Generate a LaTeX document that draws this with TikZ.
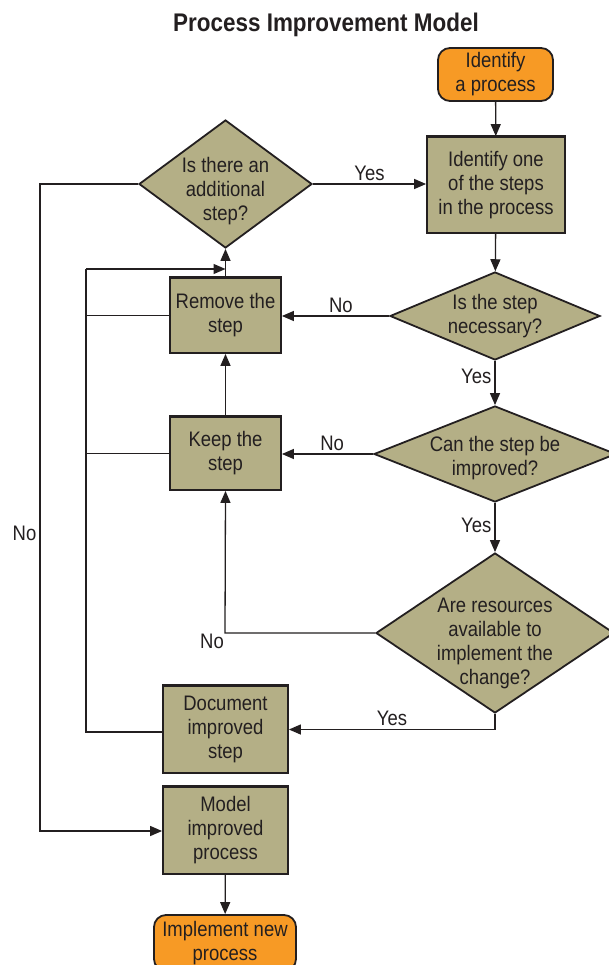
\documentclass[tikz,border=0pt]{standalone}
\usepackage{fontspec}
\setmainfont{Liberation Sans}[FakeStretch=0.88]
\usetikzlibrary{shapes.geometric,arrows.meta}
\definecolor{olive}{HTML}{B4AF86}
\definecolor{orangebox}{HTML}{F79A25}
\definecolor{ink}{HTML}{231F20}
\tikzset{
  txt/.style={font=\fontsize{21}{24}\selectfont, align=center, text=ink},
  stepbox/.style={txt, draw=ink, line width=1.8pt, fill=olive, inner sep=0pt,
    append after command={(\tikzlastnode.north west) edge[draw=ink, line width=3pt] (\tikzlastnode.north east)}},
  endbox/.style={txt, draw=ink, line width=1.8pt, fill=orangebox, rounded corners=12pt, inner sep=0pt},
  decision/.style={diamond, draw=ink, line width=1.8pt, fill=olive, inner sep=0pt},
  conn/.style={draw=ink, line width=1.3pt, -{Triangle[length=12pt,width=10pt]}},
  plain/.style={draw=ink, line width=1.3pt},
  lbl/.style={txt, inner sep=3pt}
}
\begin{document}
\begin{tikzpicture}[x=1pt, y=-1pt]
\useasboundingbox (0,0) rectangle (608,965);
\fill[white] (0,0) rectangle (608,965);

% title
\node[font=\fontsize{25.5}{28}\bfseries\selectfont, text=ink] (title) at (326,25) {Process Improvement Model};

% start / end
\node[endbox, minimum width=115pt, minimum height=53pt] (start) at (495.5,74.5) {Identify\\a process};
\node[endbox, minimum width=142pt, minimum height=56pt] (finish) at (225,943) {Implement new\\process};

% process steps
\node[stepbox, minimum width=138pt, minimum height=96pt] (pick) at (496,185) {Identify one\\of the steps\\in the process};
\node[stepbox, minimum width=111pt, minimum height=75pt] (remove) at (225.5,315.5) {Remove the\\step};
\node[stepbox, minimum width=111pt, minimum height=73pt] (keep) at (225.5,453.5) {Keep the\\step};
\node[stepbox, minimum width=125pt, minimum height=87pt] (doc) at (225.5,729.5) {Document\\improved\\step};
\node[stepbox, minimum width=125pt, minimum height=87pt] (model) at (225.5,830.5) {Model\\improved\\process};

% decisions
\node[decision, minimum width=173pt, minimum height=128pt] (more) at (225.5,184) {};
\node[txt] (moret) at (225.5,191) {Is there an\\additional\\step?};
\node[decision, minimum width=210pt, minimum height=88pt] (needed) at (495,316) {};
\node[txt] (neededt) at (495,316.5) {Is the step\\necessary?};
\node[decision, minimum width=242pt, minimum height=96pt] (better) at (495,454) {};
\node[txt] (bettert) at (495,458) {Can the step be\\improved?};
\node[decision, minimum width=238pt, minimum height=160pt] (funds) at (495,633) {};
\node[txt] (fundst) at (495,643) {Are resources\\available to\\implement the\\change?};

% junction points of the return loops
\coordinate (loopx) at (86,269);
\coordinate (nojoin) at (225,633);

% main flow
\draw[conn] (start) -- (pick);
\draw[conn] (more.east) -- node[lbl, above] (yes1) {Yes} (more.east -| pick.west);
\draw[conn] (pick) -- (needed);
\draw[conn] (needed.west) -- node[lbl, above, pos=0.45] (no1) {No} (needed.west -| remove.east);
\draw[conn] (needed) -- node[lbl, left, pos=0.35] (yes2) {Yes} (better);
\draw[conn] (better.west) -- node[lbl, above, pos=0.45] (no2) {No} (better.west -| keep.east);
\draw[conn] (better) -- node[lbl, left, pos=0.45] (yes3) {Yes} (funds);
\draw[conn] (funds.west) -- (nojoin) -- (keep.south);
\node[lbl, below left, inner sep=1pt] (no3) at (nojoin) {No};
\draw[conn] (funds.south) -- (funds.south |- doc.east) -- node[lbl, above] (yes4) {Yes} (doc.east);
\draw[conn] (keep) -- (remove);
\draw[conn] (remove) -- (more);

% loop back to the next step
\draw[plain] (doc.west |- 0,732) -- (loopx |- 0,732) -- (loopx);
\draw[conn] (loopx) -- (remove.north |- loopx);
\draw[plain] (remove.west) -- (remove.west -| loopx);
\draw[plain] (keep.west) -- (keep.west -| loopx);

% no more steps
\draw[conn] (more.west) -- (40,184) -- node[lbl, left, pos=0.54] (no4) {No} (40,831) -- (model.west |- 0,831);
\draw[conn] (model) -- (finish);
\end{tikzpicture}
\end{document}
